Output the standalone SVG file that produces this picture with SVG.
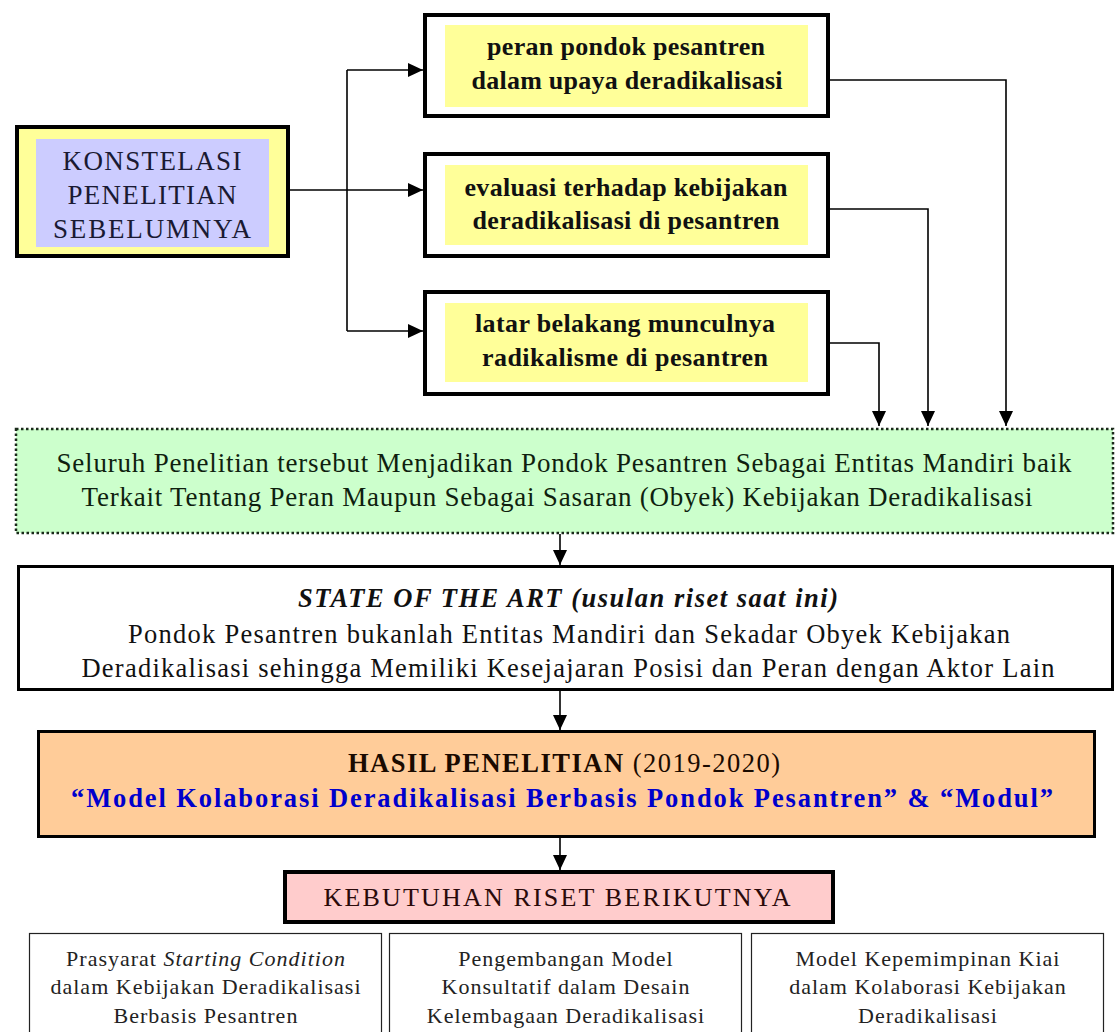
<svg xmlns="http://www.w3.org/2000/svg" width="1120" height="1032" viewBox="0 0 1120 1032">
<defs>
<marker id="ah" markerUnits="userSpaceOnUse" markerWidth="15" markerHeight="14" refX="15" refY="7" orient="auto">
<path d="M0,0 L15,7 L0,14 z" fill="#000"/>
</marker>
<style>
text{font-family:"Liberation Serif","Times New Roman",serif;text-anchor:middle}
.thick{fill:#fff;stroke:#000;stroke-width:4}
.yel{fill:#ffff99}
.top{font-size:26px;font-weight:bold;fill:#111}
.con{fill:none;stroke:#000;stroke-width:1.6}
.arr{fill:none;stroke:#000;stroke-width:1.6;marker-end:url(#ah)}
.dot{font-size:27px;fill:#0f1f0f}
.st{font-size:26.5px;fill:#111}
.bot{font-size:22px;fill:#222;letter-spacing:1px}
.thin{fill:#fff;stroke:#222;stroke-width:1.2}
</style>
</defs>
<rect width="1120" height="1032" fill="#fff"/>

<g id="konstelasi">
<rect x="17" y="127" width="271" height="129" fill="#ffff99" stroke="#000" stroke-width="4"/>
<rect x="36" y="139" width="233" height="108" fill="#ccccff"/>
<text x="152" y="170" font-size="27" fill="#1a1a33" textLength="179">KONSTELASI</text>
<text x="152" y="204" font-size="27" fill="#1a1a33" textLength="169">PENELITIAN</text>
<text x="152" y="238" font-size="27" fill="#1a1a33" textLength="198">SEBELUMNYA</text>
</g>

<g id="peran">
<rect class="thick" x="425" y="15" width="403" height="101"/>
<rect class="yel" x="445" y="25" width="363" height="82"/>
<text class="top" x="626" y="55" textLength="278">peran pondok pesantren</text>
<text class="top" x="627" y="89" textLength="311">dalam upaya deradikalisasi</text>
</g>

<g id="evaluasi">
<rect class="thick" x="425" y="154" width="403" height="102"/>
<rect class="yel" x="445" y="165" width="363" height="80"/>
<text class="top" x="626" y="196" textLength="323">evaluasi terhadap kebijakan</text>
<text class="top" x="626" y="229" textLength="307">deradikalisasi di pesantren</text>
</g>

<g id="latar">
<rect class="thick" x="425" y="292" width="403" height="102"/>
<rect class="yel" x="445" y="303" width="363" height="79"/>
<text class="top" x="625" y="332" textLength="300">latar belakang munculnya</text>
<text class="top" x="625" y="366" textLength="286">radikalisme di pesantren</text>
</g>

<g id="seluruh">
<rect x="16" y="429" width="1097" height="104" fill="#ccffcc" stroke="#1a2a1a" stroke-width="2.5" stroke-dasharray="2.5 2.5"/>
<text class="dot" x="564" y="472" textLength="1015">Seluruh Penelitian tersebut Menjadikan Pondok Pesantren Sebagai Entitas Mandiri baik</text>
<text class="dot" x="557" y="506" textLength="951">Terkait Tentang Peran Maupun Sebagai Sasaran (Obyek) Kebijakan Deradikalisasi</text>
</g>

<g id="state">
<rect x="18.5" y="566.5" width="1094" height="123" fill="#fff" stroke="#000" stroke-width="3"/>
<text class="st" x="568" y="607" font-weight="bold" font-style="italic" textLength="540">STATE OF THE ART (usulan riset saat ini)</text>
<text class="st" x="569" y="643" textLength="882">Pondok Pesantren bukanlah Entitas Mandiri dan Sekadar Obyek Kebijakan</text>
<text class="st" x="568" y="677" textLength="973">Deradikalisasi sehingga Memiliki Kesejajaran Posisi dan Peran dengan Aktor Lain</text>
</g>

<g id="hasil">
<rect x="38.5" y="731.5" width="1056" height="105" fill="#ffcc99" stroke="#000" stroke-width="3"/>
<text x="564" y="772" font-size="26.5" fill="#1a0a00" textLength="432"><tspan font-weight="bold">HASIL PENELITIAN</tspan> (2019-2020)</text>
<text x="562" y="807" font-size="26.5" font-weight="bold" fill="#0000cc" textLength="982">“Model Kolaborasi Deradikalisasi Berbasis Pondok Pesantren”  &amp;  “Modul”</text>
</g>

<g id="kebutuhan">
<rect x="285" y="872" width="548" height="50" fill="#ffcccc" stroke="#000" stroke-width="4"/>
<text x="557" y="906" font-size="26" fill="#2a0a0a" textLength="467">KEBUTUHAN RISET BERIKUTNYA</text>
</g>

<g id="prasyarat">
<rect class="thin" x="29.5" y="933.5" width="352" height="110"/>
<text class="bot" x="206" y="966">Prasyarat <tspan font-style="italic">Starting Condition</tspan></text>
<text class="bot" x="206" y="994">dalam Kebijakan Deradikalisasi</text>
<text class="bot" x="206" y="1023">Berbasis Pesantren</text>
</g>

<g id="pengembangan">
<rect class="thin" x="389.5" y="933.5" width="352" height="110"/>
<text class="bot" x="566" y="966">Pengembangan Model</text>
<text class="bot" x="566" y="994">Konsultatif dalam Desain</text>
<text class="bot" x="566" y="1023">Kelembagaan Deradikalisasi</text>
</g>

<g id="kepemimpinan">
<rect class="thin" x="751.5" y="933.5" width="352" height="110"/>
<text class="bot" x="928" y="966">Model Kepemimpinan Kiai</text>
<text class="bot" x="928" y="994">dalam Kolaborasi Kebijakan</text>
<text class="bot" x="928" y="1023">Deradikalisasi</text>
</g>

<g id="connectors">
<path class="con" d="M347,70 V331"/>
<path class="arr" d="M347,70 H423"/>
<path class="arr" d="M290,190 H423"/>
<path class="arr" d="M347,331 H423"/>
<path class="arr" d="M830,80 H1006 V426"/>
<path class="arr" d="M830,209 H928 V426"/>
<path class="arr" d="M830,343 H879 V426"/>
<path class="arr" d="M560,534 V565"/>
<path class="arr" d="M560,690 V730"/>
<path class="arr" d="M560,837 V870"/>
</g>
</svg>
